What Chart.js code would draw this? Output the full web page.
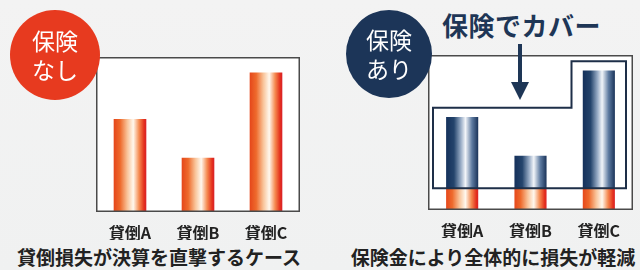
<!DOCTYPE html>
<html>
<head>
<meta charset="utf-8">
<script src="https://cdn.jsdelivr.net/npm/chart.js@4/dist/chart.umd.min.js"></script>
<style>
  html, body { margin: 0; padding: 0; }
  body {
    width: 640px; height: 270px; position: relative; overflow: hidden;
    background: linear-gradient(180deg, #f3f3f3 0%, #f0f1f1 100%);
    font-family: "Noto Sans CJK JP", "Noto Sans", sans-serif;
  }
  .box { position: absolute; }
  .badge {
    position: absolute; border-radius: 50%; color: #fff; text-align: center;
    font-size: 23px; line-height: 29px; z-index: 5;
    display: flex; flex-direction: column; justify-content: center;
  }
  .caption {
    position: absolute; font-weight: 700; font-size: 19px; color: #222;
    white-space: nowrap; transform: translateX(-50%);
  }
  #coverTitle {
    position: absolute; left: 442px; top: 6px; font-size: 26px; font-weight: 700;
    color: #1e3656; white-space: nowrap; letter-spacing: 0.5px;
  }
  #arrow { position: absolute; left: 508px; top: 42px; z-index: 6; }
</style>
</head>
<body>

<div class="badge" style="left:10px;top:10px;width:90px;height:90px;background:#e73a1f;">
  <span>保険</span><span>なし</span>
</div>
<div class="badge" style="left:346px;top:10px;width:86px;height:88px;background:#1c3558;">
  <span>保険</span><span>あり</span>
</div>

<div id="coverTitle">保険でカバー</div>

<div class="box" style="left:96px;top:57px;width:204px;height:183px;">
  <canvas id="noInsurance"></canvas>
</div>
<div class="box" style="left:428px;top:55px;width:205px;height:183px;">
  <canvas id="withInsurance"></canvas>
</div>

<svg id="arrow" width="24" height="62">
  <line x1="12" y1="2" x2="12" y2="44" stroke="#1e3656" stroke-width="4"/>
  <polygon points="3,40 21,40 12,58" fill="#1e3656"/>
</svg>

<div class="caption" style="left:159px;top:243px;">貸倒損失が決算を直撃するケース</div>
<div class="caption" style="left:493px;top:243px;">保険金により全体的に損失が軽減</div>

<script>
const categories = ['貸倒A', '貸倒B', '貸倒C']
const totalLoss = [60, 35, 90]          // 保険なし
const retainedLoss = [14, 14, 14]       // 保険あり: 自己負担（オレンジ）
const coveredLoss = [46, 21, 76]        // 保険あり: 保険でカバー（紺）
const coverOutline = [14, 66, 96]       // 囲み線: 下端, 左側上端, 右側上端

const orangeStops = [
    [0, '#e5461a'], [0.2, '#ee6a2c'], [0.42, '#f9c49a'],
    [0.6, '#fff8ee'], [0.78, '#f58a50'], [0.93, '#e4301c'], [1, '#d81f2a']
]
const navyStops = [
    [0, '#14305a'], [0.25, '#24446c'], [0.46, '#98acc6'],
    [0.6, '#f2f5f9'], [0.8, '#5d7aa0'], [1, '#162f55']
]

function barGradient(stops) {
    return function (context) {
        const chart = context.chart
        const xScale = chart.scales.x
        if (!chart.chartArea || !xScale || context.dataIndex === undefined) return stops[0][1]
        const center = xScale.getPixelForValue(context.dataIndex)
        const half = xScale.width / categories.length * 0.48 / 2
        if (!isFinite(center) || !isFinite(half) || half <= 0) return stops[0][1]
        const g = chart.ctx.createLinearGradient(center - half, 0, center + half, 0)
        stops.forEach(([p, c]) => g.addColorStop(p, c))
        return g
    }
}

const frameBox = {
    id: 'frameBox',
    beforeDatasetsDraw(chart) {
        const { ctx, chartArea } = chart
        ctx.save()
        ctx.fillStyle = '#ffffff'
        ctx.fillRect(chartArea.left, chartArea.top, chartArea.right - chartArea.left, chartArea.bottom - chartArea.top)
        ctx.restore()
    },
    afterDatasetsDraw(chart) {
        const { ctx, chartArea } = chart
        ctx.save()
        ctx.strokeStyle = '#4a4a4a'
        ctx.lineWidth = 1.5
        ctx.strokeRect(chartArea.left + 0.75, chartArea.top + 0.75, chartArea.right - chartArea.left - 1.5, chartArea.bottom - chartArea.top - 1.5)
        ctx.restore()
    }
}

const coverLine = {
    id: 'coverLine',
    afterDatasetsDraw(chart) {
        const { ctx, chartArea, scales } = chart
        const left = chartArea.left + 5
        const right = chartArea.right - 7
        const step = scales.x.getPixelForValue(1.6)
        const bottom = scales.y.getPixelForValue(coverOutline[0])
        const lowTop = scales.y.getPixelForValue(coverOutline[1])
        const highTop = scales.y.getPixelForValue(coverOutline[2])
        ctx.save()
        ctx.strokeStyle = '#1e2f48'
        ctx.lineWidth = 2
        ctx.beginPath()
        ctx.moveTo(left, bottom)
        ctx.lineTo(left, lowTop)
        ctx.lineTo(step, lowTop)
        ctx.lineTo(step, highTop)
        ctx.lineTo(right, highTop)
        ctx.lineTo(right, bottom)
        ctx.closePath()
        ctx.stroke()
        ctx.restore()
    }
}

function baseOptions() {
    return {
        responsive: true,
        maintainAspectRatio: false,
        animation: false,
        layout: { padding: 0 },
        plugins: { legend: { display: false }, tooltip: { enabled: false } },
        scales: {
            x: {
                stacked: true,
                grid: { display: false },
                border: { display: false },
                ticks: {
                    color: '#222',
                    padding: 3,
                    font: { family: '"Noto Sans CJK JP", sans-serif', size: 16, weight: 'bold' }
                },
                afterFit(scale) { scale.height = 28 }
            },
            y: { stacked: true, display: false, min: 0, max: 100 }
        }
    }
}

new Chart(document.getElementById('noInsurance'), {
    type: 'bar',
    data: {
        labels: categories,
        datasets: [{
            data: totalLoss,
            backgroundColor: barGradient(orangeStops),
            borderWidth: 0,
            barPercentage: 0.48,
            categoryPercentage: 1
        }]
    },
    options: baseOptions(),
    plugins: [frameBox]
})

new Chart(document.getElementById('withInsurance'), {
    type: 'bar',
    data: {
        labels: categories,
        datasets: [
            {
                data: retainedLoss,
                backgroundColor: barGradient(orangeStops),
                borderWidth: 0,
                barPercentage: 0.47,
                categoryPercentage: 1
            },
            {
                data: coveredLoss,
                backgroundColor: barGradient(navyStops),
                borderWidth: 0,
                barPercentage: 0.47,
                categoryPercentage: 1
            }
        ]
    },
    options: baseOptions(),
    plugins: [frameBox, coverLine]
})
</script>
</body>
</html>
